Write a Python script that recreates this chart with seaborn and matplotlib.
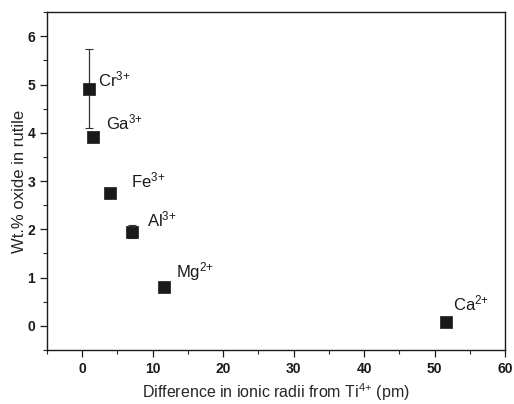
import numpy as np
import pandas as pd
import seaborn as sns
import matplotlib.pyplot as plt
from matplotlib.ticker import MultipleLocator

# values
ions = ["Cr$^{3{+}}$", "Ga$^{3{+}}$", "Fe$^{3{+}}$", "Al$^{3{+}}$", "Mg$^{2{+}}$", "Ca$^{2{+}}$"]
radius_diff = [1.0, 1.6, 4.0, 7.0, 11.6, 51.6]
wt_oxide = [4.91, 3.92, 2.75, 1.95, 0.81, 0.08]
wt_err = [0.82, 0.1, 0.0, 0.14, 0.0, 0.0]

# label offsets in points (dx, dy)
label_offsets = [(6, 7), (9, 10), (15, 9), (11, 9), (9, 11), (5, 13)]

sns.set_style("ticks")
plt.rcParams["font.family"] = ["Liberation Sans", "DejaVu Sans"]
plt.rcParams["mathtext.fontset"] = "custom"
plt.rcParams["mathtext.rm"] = "Liberation Sans"
plt.rcParams["mathtext.it"] = "Liberation Sans"

df = pd.DataFrame({"ion": ions, "x": radius_diff, "y": wt_oxide, "err": wt_err})

fig = plt.figure(figsize=(5.14, 4.04), dpi=100)
ax = fig.add_axes([0.0914, 0.1337, 0.8911, 0.8363])

ax.errorbar(df["x"], df["y"], yerr=df["err"], fmt="none", ecolor="#333333",
            elinewidth=0.9, capsize=3, capthick=0.8, zorder=2)
sns.scatterplot(data=df, x="x", y="y", marker="s", s=70, color="#1a1a1a",
                edgecolor="#1a1a1a", linewidth=0.5, ax=ax, zorder=3, legend=False)

for (_, row), (dx, dy) in zip(df.iterrows(), label_offsets):
    ax.annotate(row["ion"], (row["x"], row["y"]), xytext=(dx, dy),
                textcoords="offset points", fontsize=12, color="#1a1a1a",
                ha="left", va="center")

ax.set_xlim(-5, 60)
ax.set_ylim(-0.5, 6.5)
ax.xaxis.set_major_locator(MultipleLocator(10))
ax.xaxis.set_minor_locator(MultipleLocator(5))
ax.yaxis.set_major_locator(MultipleLocator(1))
ax.yaxis.set_minor_locator(MultipleLocator(0.5))
ax.tick_params(which="major", direction="out", length=5, width=0.9, labelsize=10, colors="#1a1a1a")
ax.tick_params(which="minor", direction="out", length=3, width=0.8)
for lab in ax.get_xticklabels() + ax.get_yticklabels():
    lab.set_fontweight("bold")

for s in ax.spines.values():
    s.set_visible(True)
    s.set_linewidth(1.0)
    s.set_color("#1a1a1a")

ax.set_xlabel("Difference in ionic radii from Ti$^{4{+}}$ (pm)", fontsize=11.5, labelpad=4)
ax.set_ylabel("Wt.% oxide in rutile", fontsize=12, labelpad=0)

fig.savefig("out.png", dpi=100)
